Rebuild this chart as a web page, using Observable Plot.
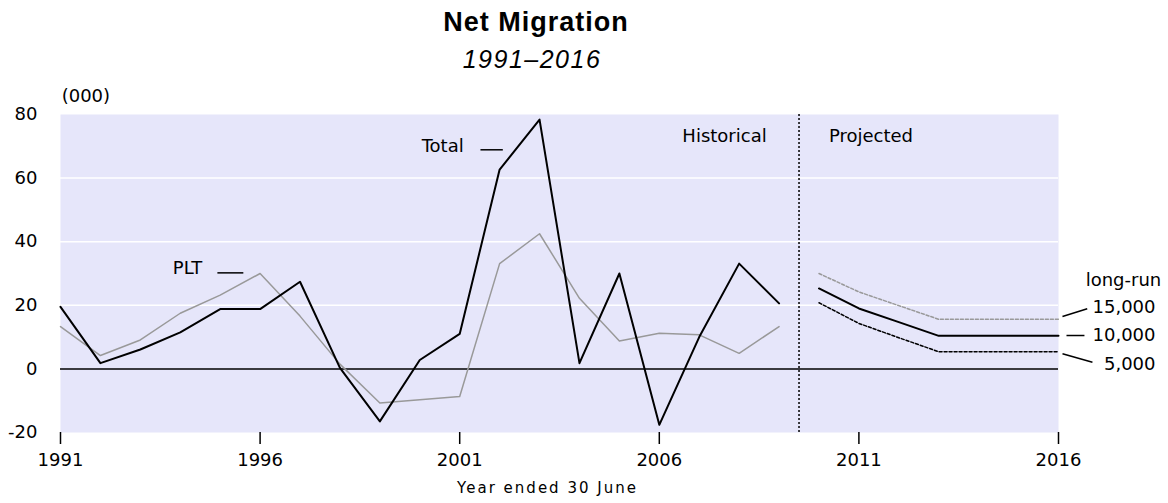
<!DOCTYPE html>
<html><head><meta charset="utf-8">
<script src="https://cdn.jsdelivr.net/npm/d3@7"></script>
<script src="https://cdn.jsdelivr.net/npm/@observablehq/plot@0.6"></script>
<style>
body{margin:0;background:#fff;}
#head{position:relative;width:1168px;height:78px;}
#title{position:absolute;left:0;width:1072px;top:9px;text-align:center;font-family:"Liberation Sans";font-weight:bold;font-size:27px;letter-spacing:1px;line-height:27px;color:#000;}
#sub{position:absolute;left:0;width:1064px;top:47px;text-align:center;font-family:"Liberation Sans";font-style:italic;font-size:25px;letter-spacing:1.5px;line-height:25px;color:#000;}
#chart{width:1168px;height:425px;}
#chart svg > g:last-of-type text{letter-spacing:2px;}
</style></head>
<body>
<div id="head"><div id="title">Net Migration</div><div id="sub">1991–2016</div></div>
<div id="chart"></div>
<script>
// ---- data (thousands) ----
const histYears   = [1991,1992,1993,1994,1995,1996,1997,1998,1999,2000,2001,2002,2003,2004,2005,2006,2007,2008,2009];
const totalValues = [19.5,1.8,6.1,11.5,18.8,18.8,27.4,0.3,-16.5,2.8,11.0,62.7,78.4,1.8,30.0,-17.6,10.0,33.1,20.6];
const pltValues   = [13.3,4.2,9.1,17.5,23.2,30.0,16.6,1.5,-10.7,-9.7,-8.7,33.1,42.5,22.2,8.8,11.2,10.7,4.9,13.3];

const projYears  = [2010,2011,2012,2013,2014,2015,2016];
const proj15000  = [30.0,24.2,19.9,15.6,15.6,15.6,15.6];
const proj10000  = [25.3,19.0,14.7,10.4,10.4,10.4,10.4];
const proj5000   = [20.8,14.3,9.8,5.4,5.4,5.4,5.4];

const xTicks = [1991,1996,2001,2006,2011,2016];
const yTicks = [-20,0,20,40,60,80];
const gridValues = [20,40,60];
const divideYear = [2009.5];

// annotation texts
const labelTexts = ["Total","PLT","Historical","Projected","(000)","long-run","15,000","10,000","5,000"];
const labelX     = [2001.1,1994.55,2008.69,2010.25,1991.03,2016.68,2018.43,2018.43,2018.43];
const labelY     = [69.9,31.6,73.1,73.1,85.7,27.8,19.5,10.5,1.6];
const labelAnchor= ["end","end","end","start","start","start","end","end","end"];
// annotation connector dashes
const dashX1 = [2001.52,1994.93,2016.1,2016.2,2016.1];
const dashX2 = [2002.08,1995.58,2016.72,2016.65,2016.85];
const dashY1 = [68.9,30.2,16.5,10.5,4.75];
const dashY2 = [68.9,30.2,18.9,10.5,2.1];

// ---- tables ----
const hist = histYears.map((year,i)=>({year,total:totalValues[i],plt:pltValues[i]}));
const proj = projYears.map((year,i)=>({year,p15:proj15000[i],p10:proj10000[i],p5:proj5000[i]}));
const labels = labelTexts.map((text,i)=>({text,x:labelX[i],y:labelY[i],anchor:labelAnchor[i]}));
const dashes = dashX1.map((x1,i)=>({x1,x2:dashX2[i],y1:dashY1[i],y2:dashY2[i]}));

const chart = Plot.plot({
  width:1168, height:425,
  marginTop:36, marginBottom:71, marginLeft:60, marginRight:110,
  x:{domain:[1991,2016]},
  y:{domain:[-20,80]},
  style:{fontFamily:"DejaVu Sans", fontSize:"18px", color:"black", background:"white", overflow:"visible"},
  marks:[
    Plot.frame({fill:"#E6E6FA", stroke:null}),
    Plot.ruleY(gridValues,{stroke:"white", strokeWidth:1.5}),
    Plot.ruleY([0],{stroke:"black", strokeWidth:1.5}),
    Plot.ruleX(divideYear,{stroke:"black", strokeWidth:1.5, strokeDasharray:"2,2"}),
    Plot.line(hist,{x:"year", y:"plt", stroke:"#999999", strokeWidth:1.5}),
    Plot.line(hist,{x:"year", y:"total", stroke:"black", strokeWidth:2}),
    Plot.line(proj,{x:"year", y:"p15", stroke:"#999999", strokeWidth:1.5, strokeDasharray:"3,2"}),
    Plot.line(proj,{x:"year", y:"p10", stroke:"black", strokeWidth:2}),
    Plot.line(proj,{x:"year", y:"p5", stroke:"black", strokeWidth:1.5, strokeDasharray:"3,2"}),
    Plot.link(dashes,{x1:"x1", x2:"x2", y1:"y1", y2:"y2", stroke:"black", strokeWidth:1.5}),
    Plot.text(labels.filter(d=>d.anchor==="end"),{x:"x", y:"y", text:"text", textAnchor:"end", fill:"black"}),
    Plot.text(labels.filter(d=>d.anchor==="start"),{x:"x", y:"y", text:"text", textAnchor:"start", fill:"black"}),
    Plot.axisX(xTicks,{tickSize:12, tickPadding:9, tickFormat:d=>String(d), label:null, strokeWidth:1.5}),
    Plot.axisY(yTicks,{tickSize:0, tickPadding:23, tickFormat:d=>String(d), label:null}),
    Plot.text(["Year ended 30 June"],{frameAnchor:"bottom", dx:-12, dy:60, fontSize:15, fill:"black"})
  ]
});
document.getElementById("chart").appendChild(chart);
</script>
</body></html>
